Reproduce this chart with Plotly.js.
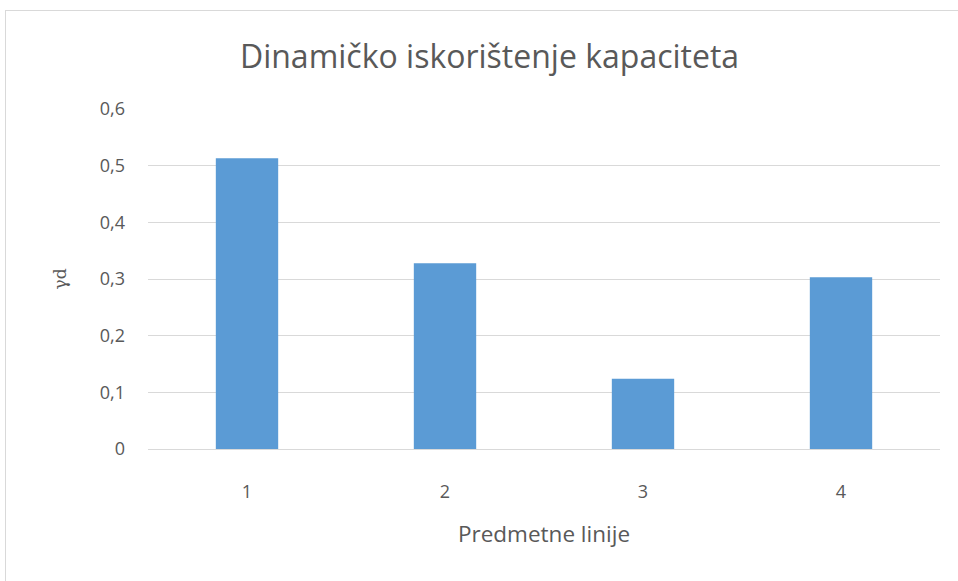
<!DOCTYPE html>
<html>
<head>
<meta charset="utf-8">
<script src="https://cdn.plot.ly/plotly-3.0.1.min.js"></script>
<style>
html,body{margin:0;padding:0;background:#fff;}
#frame{position:absolute;left:5px;top:10px;width:960px;height:580px;border-left:1px solid #d9d9d9;border-top:1px solid #d9d9d9;}
#chart{position:absolute;left:0;top:0;width:958px;height:581px;}
</style>
</head>
<body>
<div id="frame"></div>
<div id="chart"></div>
<script>
const categories = ['1', '2', '3', '4'];
const values = [0.513, 0.328, 0.124, 0.303];
const yTickVals = [0, 0.1, 0.2, 0.3, 0.4, 0.5, 0.6];
const yTickText = ['0', '0,1', '0,2', '0,3', '0,4', '0,5', '0,6'];

const font = '"Open Sans", sans-serif';

Plotly.newPlot('chart', [{
  type: 'bar',
  x: categories,
  y: values,
  marker: {color: '#5b9bd5'},
  hoverinfo: 'none'
}], {
  width: 958,
  height: 581,
  margin: {l: 148, r: 18, t: 109, b: 132},
  paper_bgcolor: 'rgba(0,0,0,0)',
  plot_bgcolor: 'rgba(0,0,0,0)',
  bargap: 0.685,
  showlegend: false,
  title: {
    text: 'Dinamičko iskorištenje kapaciteta',
    font: {family: font, size: 32, color: '#595959'},
    x: 0.511, xanchor: 'center',
    y: 0.902, yanchor: 'middle'
  },
  xaxis: {
    type: 'category',
    tickfont: {family: font, size: 18, color: '#595959'},
    ticks: '',
    ticklabelstandoff: 30,
    showgrid: false,
    showline: false,
    title: {text: 'Predmetne linije', font: {family: font, size: 22.5, color: '#595959'}, standoff: 24}
  },
  yaxis: {
    range: [0, 0.6],
    tickvals: yTickVals,
    ticktext: yTickText,
    tickfont: {family: font, size: 18, color: '#595959'},
    ticks: '',
    ticklabelstandoff: 22,
    showgrid: true,
    gridcolor: '#d9d9d9',
    gridwidth: 1,
    zeroline: true,
    zerolinecolor: '#d9d9d9',
    zerolinewidth: 1,
    showline: false,
    title: {text: 'γd', font: {family: '"DejaVu Serif", serif', size: 17, color: '#595959'}, standoff: 28}
  }
}, {staticPlot: true});
</script>
</body>
</html>
